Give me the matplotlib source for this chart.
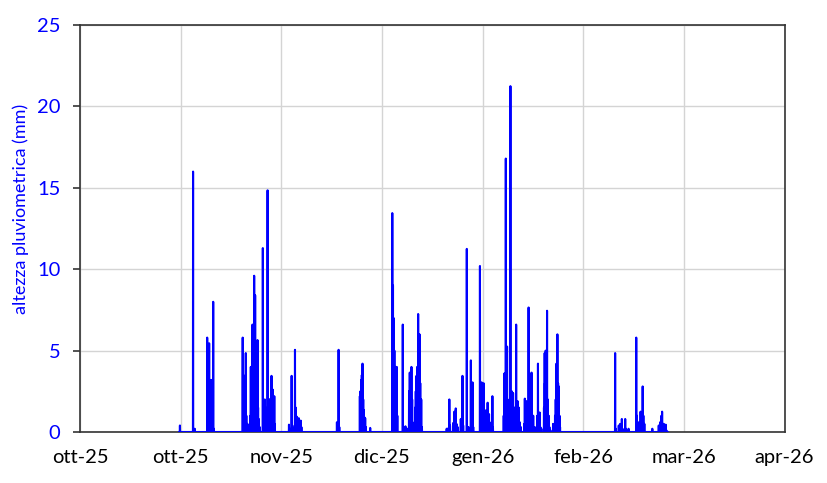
import numpy as np
import matplotlib.pyplot as plt

# hourly rainfall: day offset from 1 Oct 2025 -> mm
event_day = [
    29.8,
    33.7, 34.2,
    37.9, 38.1, 38.3, 38.5, 38.7, 38.9, 39.1, 39.3, 39.5, 39.7, 39.9,
    48.5, 48.7, 48.9, 49.1, 49.4, 49.6, 49.9, 50.2, 50.5,
    50.8, 50.9, 51.1, 51.4, 51.6, 51.9, 52.1, 52.2, 52.4, 52.6, 52.9, 53.1, 53.3, 53.6,
    54.5, 54.7, 54.9, 55.1, 55.3, 55.5, 55.9, 56.1, 56.3, 56.5, 56.7, 56.9, 57.1, 57.3, 57.5, 57.7, 57.9, 58.1,
    62.3, 62.5, 63.1, 63.3, 63.6, 64.1, 64.3, 64.6, 65.0, 65.2, 65.5, 65.8, 66.0,
    76.6, 77.1, 77.3,
    83.4, 83.6, 83.8, 84.0, 84.2, 84.4, 84.6, 84.8, 85.0, 85.2, 86.5,
    93.1, 93.3, 93.5, 93.7, 94.0, 94.2, 94.4, 94.6,
    96.2, 96.4, 97.0, 97.3, 97.7,
    98.1, 98.3, 98.5, 98.8, 99.0, 99.3, 99.7, 99.9, 100.1, 100.3, 100.5, 100.8, 101.0, 101.2, 101.4, 101.7, 101.9,
    109.3, 109.5, 109.7, 110.1, 110.3, 111.2, 111.6, 111.8, 112.0, 112.2, 112.6, 113.5, 114.0, 114.2,
    115.3, 115.5, 115.8, 116.5, 116.7, 117.0, 117.2,
    119.2, 119.4, 119.7, 119.9, 120.3, 120.5, 120.7, 121.1, 121.3, 121.5, 121.7, 121.9, 122.1, 122.9, 123.1,
    126.3, 126.5, 126.7, 126.9, 127.1, 127.3, 127.5, 127.8, 128.0, 128.3, 128.5, 128.7, 128.9, 129.1, 129.3,
    129.6, 129.8, 130.0, 130.2, 130.4, 130.6, 130.8, 131.1, 131.4,
    132.4, 132.6, 132.8, 133.0, 133.2, 133.4, 133.7, 133.9, 134.0, 134.2, 134.6, 134.8, 135.1, 135.4,
    136.0, 136.3, 136.5, 136.7, 137.0, 137.2, 137.5,
    138.3, 138.5, 138.6, 138.8, 139.0, 139.2, 139.4, 139.7, 139.9, 140.2, 141.0,
    141.6, 141.8, 142.0, 142.3, 142.5, 142.7, 142.9, 143.1,
    159.5, 159.7,
    160.6, 161.0, 161.5, 161.7, 162.5, 162.7, 163.5,
    165.8, 166.0, 166.3, 166.8, 167.1, 167.4, 167.7, 167.9, 168.2,
    170.6,
    172.5, 172.9, 173.3, 173.5, 173.8, 174.0, 174.6, 174.8,
]
event_mm = [
    0.4,
    16.0, 0.2,
    5.8, 3.0, 4.0, 5.45, 3.2, 2.5, 3.2, 3.0, 2.0, 8.0, 0.2,
    5.8, 3.5, 2.8, 1.5, 4.85, 1.0, 0.5, 0.3, 0.2,
    1.0, 4.0, 2.5, 6.6, 4.0, 9.6, 6.0, 8.4, 4.0, 2.0, 5.65, 1.5, 0.8, 0.3,
    11.3, 1.0, 1.3, 2.0, 1.5, 1.0, 14.85, 1.2, 2.0, 2.0, 1.5, 1.0, 3.45, 2.0, 2.6, 1.5, 2.2, 0.5,
    0.45, 0.2, 3.45, 0.4, 0.2, 5.05, 1.5, 0.95, 0.6, 0.85, 0.6, 0.7, 0.3,
    0.6, 5.05, 0.3,
    2.2, 2.5, 3.2, 3.5, 4.2, 2.0, 1.35, 0.9, 0.85, 0.3, 0.25,
    13.45, 9.0, 7.0, 5.0, 4.0, 3.0, 4.0, 1.0,
    6.6, 0.3, 0.35, 0.2, 0.2,
    2.5, 3.65, 3.0, 4.0, 2.0, 0.5, 0.6, 1.5, 2.5, 3.45, 4.0, 7.25, 5.0, 6.0, 3.0, 2.0, 0.3,
    0.2, 0.2, 0.2, 2.0, 0.4, 0.55, 1.25, 0.8, 1.45, 0.5, 0.3, 0.8, 3.45, 0.4,
    11.25, 0.3, 0.3, 4.4, 3.0, 3.05, 0.3,
    10.2, 2.0, 3.05, 1.0, 3.0, 0.8, 0.8, 1.35, 0.6, 1.8, 0.8, 1.1, 0.6, 2.2, 0.3,
    1.0, 3.6, 1.5, 16.8, 2.0, 5.25, 1.5, 1.0, 2.0, 21.25, 2.0, 2.5, 1.5, 2.4, 1.0,
    1.5, 0.8, 6.6, 1.0, 1.9, 1.0, 1.5, 0.6, 0.3,
    0.5, 2.05, 1.0, 1.9, 1.0, 1.5, 7.65, 2.0, 3.2, 1.5, 3.65, 1.0, 1.0, 0.3,
    0.3, 1.0, 4.2, 1.0, 1.2, 0.3, 0.2,
    1.5, 4.85, 3.0, 5.0, 3.0, 7.45, 2.0, 1.0, 0.3, 0.1, 0.5,
    1.0, 2.0, 4.2, 6.0, 3.0, 2.8, 1.0, 0.3,
    4.85, 0.2,
    0.4, 0.5, 0.8, 0.2, 0.8, 0.2, 0.2,
    5.8, 1.0, 0.6, 0.6, 1.25, 0.6, 2.8, 1.0, 0.5,
    0.2,
    0.4, 0.6, 1.0, 1.25, 0.5, 0.5, 0.45, 0.1,
]
record_start_day = 29.6
record_end_day = 175.2

tick_days = [0, 30, 60, 90, 120, 150, 180, 210]
tick_labels = ["ott-25", "ott-25", "nov-25", "dic-25", "gen-26", "feb-26", "mar-26", "apr-26"]

origin = np.datetime64("2025-10-01T00:00")

# hourly record, zero where no rain was measured
hours = np.arange(int(record_start_day * 24), int(record_end_day * 24) + 1)
times = origin + hours.astype("timedelta64[h]")
rain = np.zeros(len(hours))
idx = np.round(np.array(event_day) * 24).astype(int) - hours[0]
rain[idx] = event_mm

plt.rcParams["font.family"] = ["Lato", "DejaVu Sans"]

fig = plt.figure(figsize=(8.27, 4.83), dpi=100)
ax = fig.add_axes([0.0967, 0.1056, 0.852, 0.8424])

ax.plot(times, rain, color="#0000ff", linewidth=1.5, zorder=3)

tick_dates = origin + np.array(tick_days).astype("timedelta64[D]")
ax.set_xlim(tick_dates[0], tick_dates[-1])
ax.set_xticks(tick_dates)
ax.set_xticklabels(tick_labels)
ax.set_ylim(0, 25)
ax.set_yticks(np.arange(0, 26, 5))

ax.grid(True, color="#d4d4d4", linewidth=1.0)
ax.set_axisbelow(True)
for s in ax.spines.values():
    s.set_color("#333333")
    s.set_linewidth(1.2)

ax.tick_params(axis="x", length=0, pad=12, labelsize=14.5, labelcolor="black")
ax.tick_params(axis="y", length=5, width=1.2, color="#333333", pad=9,
               labelsize=14.5, labelcolor="#0000ff")
ax.set_ylabel("altezza pluviometrica (mm)", color="#0000ff", fontsize=13)
ax.yaxis.set_label_coords(-0.073, 0.548)

fig.savefig("out.png", dpi=100)
